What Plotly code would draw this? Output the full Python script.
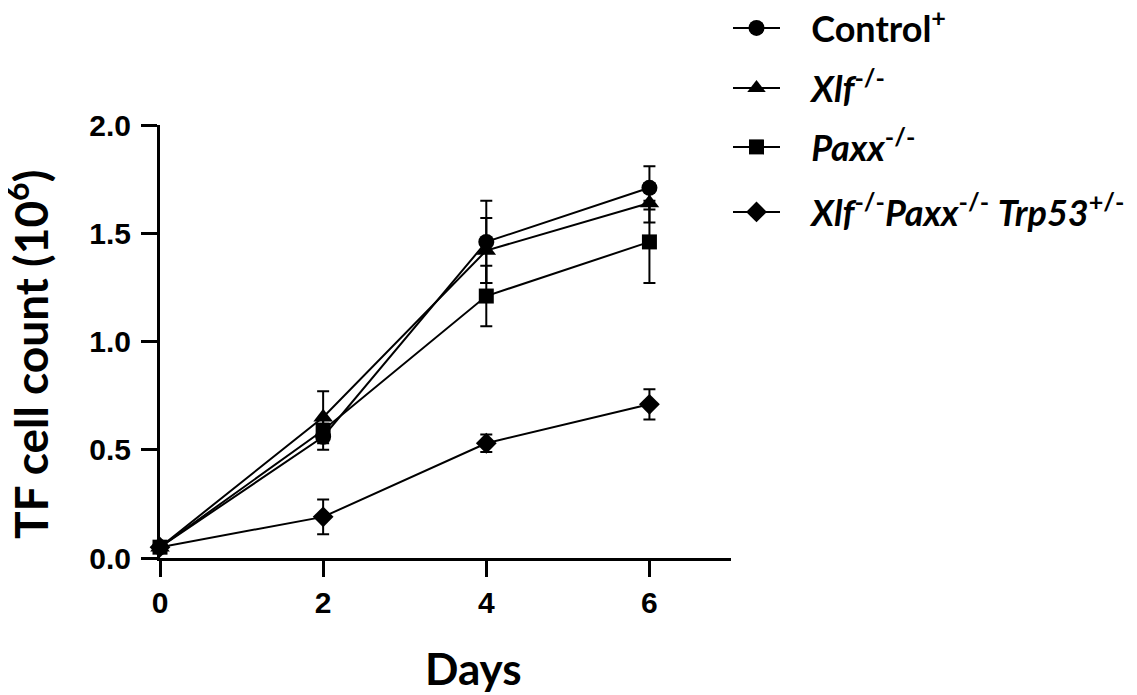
import plotly.graph_objects as go

days = [0, 2, 4, 6]
names = ["\u00a0\u00a0\u00a0Control<sup>+</sup>",
         "\u00a0\u00a0\u00a0<i>Xlf</i><sup>-/-</sup>",
         "\u00a0\u00a0\u00a0<i>Paxx</i><sup>-/-</sup>",
         "\u00a0\u00a0\u00a0<i>Xlf</i><sup>-/-</sup><i>Paxx</i><sup>-/-</sup> <i>Trp53</i><sup>+/-</sup>"]
control = [0.05, 0.56, 1.46, 1.71]
control_err = [0.0, 0.06, 0.19, 0.10]
xlf = [0.05, 0.65, 1.42, 1.64]
xlf_err = [0.0, 0.12, 0.15, 0.09]
paxx = [0.05, 0.59, 1.21, 1.46]
paxx_err = [0.0, 0.05, 0.14, 0.19]
triple = [0.05, 0.19, 0.53, 0.71]
triple_err = [0.0, 0.08, 0.04, 0.07]
x_ticks = [0, 2, 4, 6]
y_ticks = [0, 0.5, 1.0, 1.5, 2.0]

series = [(control, control_err, "circle", 16),
          (xlf, xlf_err, "triangle-up", 17),
          (paxx, paxx_err, "square", 15),
          (triple, triple_err, "diamond", 16)]

# page body has an 8px margin: figure coordinates = screen coordinates - 8
OFF = 8
FW, FH = 1137 - OFF, 695 - OFF
L, R, T, B = 160 - OFF, 731 - OFF, 125 - OFF, 558 - OFF
W, H = R - L, B - T

def px(xp):
    return (xp - OFF - L) / W

def py(yp):
    return (B - (yp - OFF)) / H

legend_rows = [28, 88, 147, 212]
legend_keys = ["legend", "legend2", "legend3", "legend4"]

fig = go.Figure()
for i, (vals, errs, sym, sz) in enumerate(series):
    fig.add_trace(go.Scatter(
        x=days, y=vals, name=names[i], mode="lines+markers",
        line=dict(color="black", width=2),
        marker=dict(symbol=sym, size=sz, color="black"),
        error_y=dict(type="data", array=errs, visible=True, color="black",
                     thickness=2, width=6),
        cliponaxis=False, legend=legend_keys[i],
    ))

legend_common = dict(xanchor="left", yanchor="middle",
                     font=dict(family="Lato", size=36, color="black", weight="bold"),
                     itemwidth=47, bgcolor="rgba(0,0,0,0)", borderwidth=0)
layout_legends = {}
for k, row in zip(legend_keys, legend_rows):
    layout_legends[k] = dict(x=px(728), y=py(row), **legend_common)

tickfont = dict(family="Liberation Sans", size=30, color="black", weight="bold")

fig.update_layout(
    width=FW, height=FH,
    margin=dict(l=L, r=FW - R, t=T, b=FH - B, autoexpand=False),
    plot_bgcolor="white", paper_bgcolor="white",
    showlegend=True,
    **layout_legends,
    xaxis=dict(range=[0, 7], tickvals=x_ticks, showline=True, linecolor="black",
               linewidth=3, ticks="outside", ticklen=16, tickwidth=3, tickcolor="black",
               showgrid=False, zeroline=False, automargin=False, ticklabelstandoff=0,
               tickfont=tickfont),
    yaxis=dict(range=[0, 2], tickvals=y_ticks, tickformat=".1f",
               showline=True, linecolor="black", linewidth=3, ticks="outside",
               ticklen=16, tickwidth=3, tickcolor="black", showgrid=False, zeroline=False,
               automargin=False, ticklabelstandoff=4, tickfont=tickfont),
    annotations=[
        dict(text="<b>Days</b>", xref="paper", yref="paper", x=px(473),
             y=py(668), xanchor="center", yanchor="middle", showarrow=False,
             font=dict(family="Lato", size=44, color="black")),
        dict(text="<b>TF cell count (10<sup>6</sup>)</b>", xref="paper", yref="paper",
             x=px(27), y=py(355), xanchor="center", yanchor="middle",
             textangle=-90, showarrow=False,
             font=dict(family="Lato", size=46, color="black")),
    ],
)

fig.write_html("out.html")
